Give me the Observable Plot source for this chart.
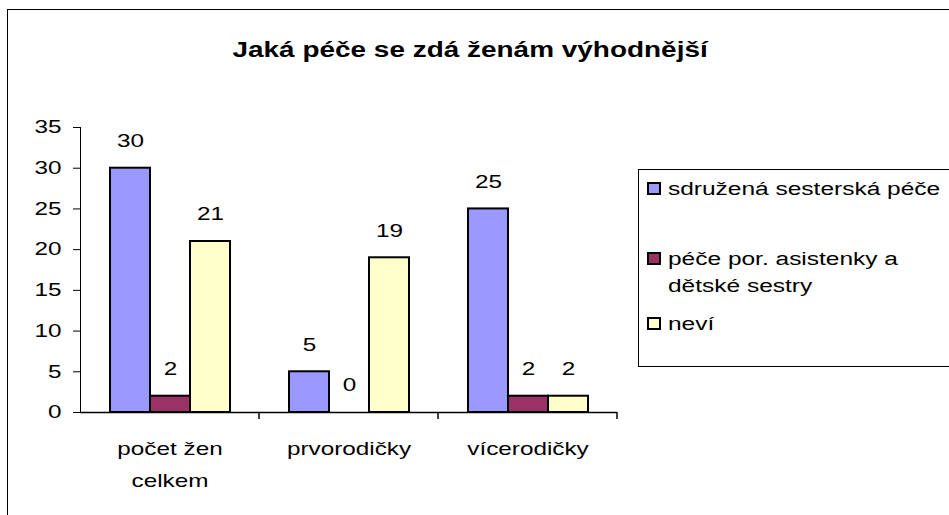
<!DOCTYPE html>
<html>
<head>
<meta charset="utf-8">
<script src="https://cdn.jsdelivr.net/npm/d3@7"></script>
<script src="https://cdn.jsdelivr.net/npm/@observablehq/plot@0.6"></script>
<style>
  body { margin: 0; background: #fff; }
  #wrap { position: relative; width: 949px; height: 515px; overflow: hidden; background: #fff;
          font-family: "Liberation Sans", Arial, sans-serif; color: #000; }
  #border { position: absolute; left: 7px; top: 9px; width: 1200px; height: 800px;
            border-left: 1.5px solid #000; border-top: 1.5px solid #000; }
  #chart { position: absolute; left: 0; top: 0; }
  #title { position: absolute; left: 0; width: 940px; top: 39px; text-align: center;
           font-weight: bold; font-size: 22px; line-height: 22px; }
  #title span { display: inline-block; transform: scaleX(1.27); transform-origin: center; }
  #legend { position: absolute; left: 638px; top: 169px; width: 400px; height: 198px;
            border: 1px solid #000; box-sizing: border-box; }
  .item { position: absolute; left: 29px; font-size: 18px; line-height: 27px; white-space: nowrap;
          transform: scaleX(1.36); transform-origin: left center; }
  .sw { position: absolute; left: 8px; width: 10px; height: 9px; border: 2px solid #000; }
</style>
</head>
<body>
<div id="wrap">
  <div id="border"></div>
  <div id="chart"></div>
  <div id="title"><span></span></div>
  <div id="legend"></div>
</div>
<script>
const title = "Jaká péče se zdá ženám výhodnější";
const categories = ["počet žen celkem", "prvorodičky", "vícerodičky"];
const categoryLabels = ["počet žen\ncelkem", "prvorodičky", "vícerodičky"];
const series = ["sdružená sesterská péče", "péče por. asistenky a dětské sestry", "neví"];
const legendLabels = [["sdružená sesterská péče"], ["péče por. asistenky a", "dětské sestry"], ["neví"]];
const sdruzena = [30, 5, 25];
const asistenky = [2, 0, 2];
const nevi = [21, 19, 2];
const yTicks = [0, 5, 10, 15, 20, 25, 30, 35];
const colors = ["#9999FF", "#993366", "#FFFFCC"];

const seriesValues = [sdruzena, asistenky, nevi];
const data = [];
categories.forEach((c, i) => {
  seriesValues.forEach((arr, j) => data.push({category: c, series: series[j], value: arr[i]}));
});

const chart = Plot.plot({
  width: 949,
  height: 515,
  marginTop: 127,
  marginBottom: 103,
  marginLeft: 80,
  marginRight: 332,
  style: {fontFamily: '"Liberation Sans", Arial, sans-serif', fontSize: "18px", color: "#000", background: "transparent", overflow: "visible"},
  fx: {domain: categories, padding: 0, label: null},
  x: {domain: series, axis: null, paddingInner: 0, paddingOuter: 0.725},
  y: {domain: [0, 35], ticks: yTicks, tickSize: 7, tickPadding: 12, line: true, label: null, tickFormat: d => String(d)},
  color: {domain: series, range: colors},
  marks: [
    Plot.barY(data, {fx: "category", x: "series", y: "value", fill: "series", stroke: "#000", strokeWidth: 2}),
    Plot.text(data, {fx: "category", x: "series", y: "value", text: d => String(d.value), dy: -27, fontSize: 18, fill: "#000"}),
    Plot.ruleY([0], {stroke: "#000", strokeWidth: 1.5}),
    Plot.axisFx({anchor: "bottom", tickSize: 0, tickPadding: 20, lineHeight: 1.78, fontSize: 18, label: null,
                 tickFormat: c => categoryLabels[categories.indexOf(c)]})
  ]
});
document.getElementById("chart").appendChild(chart);

// widen glyphs horizontally like the reference rendering
d3.select(chart).selectAll("text").each(function () {
  let t = this.getAttribute("transform");
  if (!t) {
    const x = +(this.getAttribute("x") || 0), y = +(this.getAttribute("y") || 0);
    this.removeAttribute("x"); this.removeAttribute("y");
    t = `translate(${x},${y})`;
  }
  this.setAttribute("transform", t + " scale(1.35,1)");
});

// category separator ticks on the x axis, placed through the fx scale
try {
  const fx = chart.scale("fx");
  const ys = chart.scale("y");
  const y0 = ys.apply(0);
  d3.select(chart).append("g").attr("stroke", "#000").attr("stroke-width", 1.5)
    .selectAll("line").data(categories).join("line")
    .attr("x1", c => fx.apply(c) + fx.bandwidth).attr("x2", c => fx.apply(c) + fx.bandwidth)
    .attr("y1", y0).attr("y2", y0 + 7);
} catch (e) { console.error(e); }

document.querySelector("#title span").textContent = title;

const legend = document.getElementById("legend");
const baselines = [26, 96, 161];
legendLabels.forEach((lines, i) => {
  const sw = document.createElement("div");
  sw.className = "sw";
  sw.style.background = colors[i];
  sw.style.top = (baselines[i] - 14) + "px";
  legend.appendChild(sw);
  const it = document.createElement("div");
  it.className = "item";
  it.style.top = (baselines[i] - 20) + "px";
  it.innerHTML = lines.join("<br>");
  legend.appendChild(it);
});
</script>
</body>
</html>
